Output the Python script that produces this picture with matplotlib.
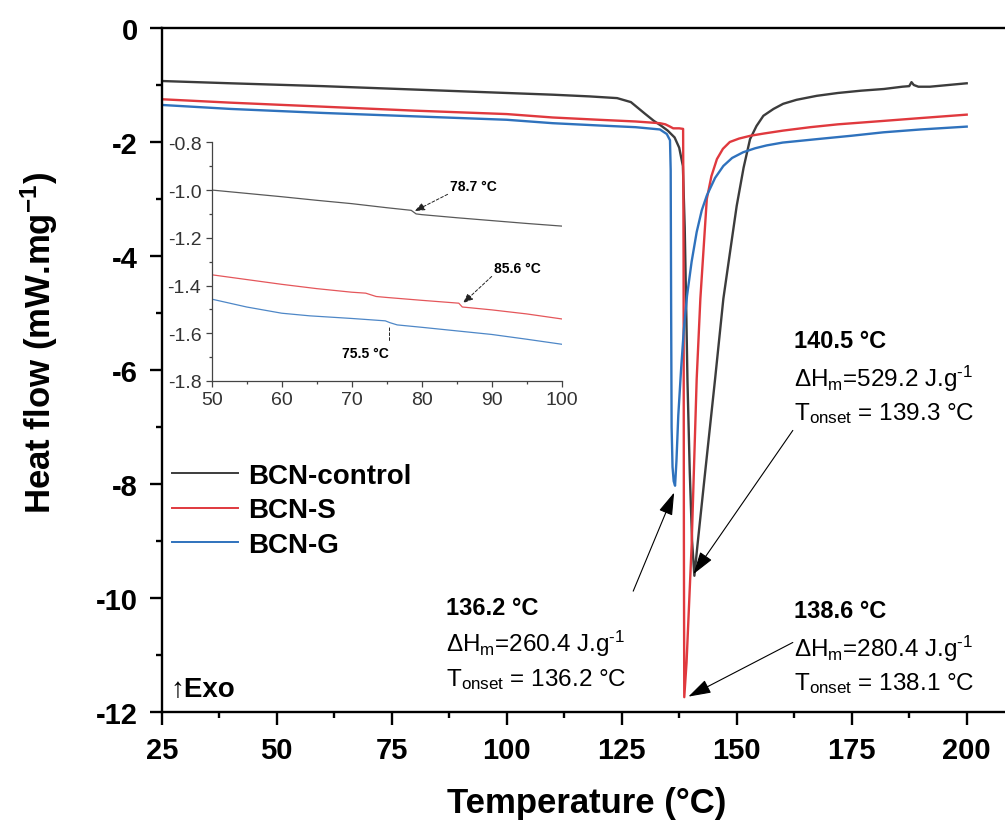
import numpy as np
import matplotlib
matplotlib.use("Agg")
import matplotlib.pyplot as plt
from matplotlib.ticker import MultipleLocator, FormatStrFormatter
from matplotlib.lines import Line2D

plt.rcParams["font.family"] = ["Liberation Sans", "DejaVu Sans"]
plt.rcParams["mathtext.fontset"] = "custom"
plt.rcParams["mathtext.rm"] = "Liberation Sans"
plt.rcParams["mathtext.bf"] = "Liberation Sans:bold"
plt.rcParams["mathtext.it"] = "Liberation Sans:italic"
plt.rcParams["axes.unicode_minus"] = False

# ---- DSC curves (T in degC, heat flow in mW/mg)
T_ctrl = [25, 40, 60, 80, 100, 110, 118, 124, 127, 130, 132, 133.5, 135, 136.5, 137.5, 138.3,
          138.7, 139.0, 139.3, 139.8, 140.3, 140.8, 141.5, 143, 145.3, 147.1, 148.5, 150, 151.5,
          152.9, 154.3, 155.8, 158, 160.1, 163, 167.4, 172, 177, 182, 186, 187.5, 188, 188.5,
          189.5, 192, 196, 200]
HF_ctrl = [-0.93, -0.97, -1.02, -1.08, -1.14, -1.17, -1.20, -1.23, -1.30, -1.50, -1.63, -1.71,
           -1.80, -1.92, -2.10, -2.42, -3.5, -4.8, -6.2, -7.8, -9.0, -9.61, -9.05, -7.9, -6.16,
           -4.75, -3.96, -3.12, -2.45, -1.95, -1.72, -1.54, -1.42, -1.33, -1.26, -1.19, -1.14,
           -1.10, -1.07, -1.03, -1.02, -0.95, -1.00, -1.03, -1.03, -1.00, -0.97]

T_S = [25, 40, 60, 80, 100, 110, 120, 128, 133.3, 134.5, 135.5, 136.2, 137.5, 138.35, 138.45,
       138.52, 138.6, 139.1, 140.2, 141.3, 142.1, 143.5, 144.5, 145.7, 147, 148.5, 150.5, 153,
       156, 160.1, 166, 172, 181.9, 190, 200]
HF_S = [-1.25, -1.31, -1.38, -1.45, -1.51, -1.57, -1.61, -1.64, -1.67, -1.69, -1.73, -1.76,
        -1.76, -1.77, -4.0, -9.0, -11.74, -11.13, -9.08, -6.16, -4.75, -3.0, -2.6, -2.3, -2.12,
        -2.0, -1.94, -1.89, -1.85, -1.80, -1.74, -1.69, -1.63, -1.58, -1.52]

T_G = [25, 40, 60, 80, 100, 110, 120, 128, 133.3, 134.8, 135.5, 135.65, 135.75, 135.85, 136.05,
       136.3, 136.6, 136.9, 137.3, 137.9, 138.5, 139.2, 140.2, 141.3, 142.4, 143.5, 145.3, 147.1,
       149, 151.4, 154, 156.5, 160, 167.4, 175, 181.9, 190, 200]
HF_G = [-1.35, -1.42, -1.49, -1.55, -1.61, -1.67, -1.71, -1.74, -1.78, -1.86, -1.97, -2.5, -5.0,
        -7.0, -7.7, -7.95, -8.03, -7.6, -6.8, -6.0, -5.3, -4.7, -4.1, -3.58, -3.2, -2.94, -2.63,
        -2.42, -2.28, -2.18, -2.11, -2.06, -2.01, -1.95, -1.89, -1.83, -1.78, -1.73]

# ---- inset (50-100 degC) glass-transition region
Ti_ctrl = [50, 55, 60, 65, 70, 75, 78.5, 79.2, 80, 85, 90, 95, 100]
HFi_ctrl = [-1.00, -1.014, -1.028, -1.043, -1.057, -1.074, -1.085, -1.100, -1.103, -1.116,
            -1.128, -1.140, -1.151]
Ti_S = [50, 55, 60, 65, 70, 72, 73.5, 75, 80, 85.3, 85.8, 90, 95, 100]
HFi_S = [-1.355, -1.375, -1.395, -1.413, -1.428, -1.432, -1.446, -1.45, -1.462, -1.474, -1.49,
         -1.502, -1.519, -1.54]
Ti_G = [50, 55, 60, 64, 70, 74.8, 75.5, 76.5, 80, 85, 90, 95, 100]
HFi_G = [-1.457, -1.49, -1.516, -1.527, -1.538, -1.548, -1.556, -1.565, -1.575, -1.59, -1.605,
         -1.625, -1.646]

LABELS = ["BCN-control", "BCN-S", "BCN-G"]
COLORS = ["#3c3c3c", "#e0393e", "#2f72bd"]

W, H = 1005, 828
def box(x0, y0, x1, y1):  # pixel box -> figure fraction
    return [x0 / W, 1 - y1 / H, (x1 - x0) / W, (y1 - y0) / H]

fig = plt.figure(figsize=(W / 100, H / 100), dpi=100)
ax = fig.add_axes(box(161.7, 29, 1012.7, 713))

for T, hf, c in zip([T_ctrl, T_S, T_G], [HF_ctrl, HF_S, HF_G], COLORS):
    ax.plot(T, hf, color=c, lw=1.7)

ax.set_xlim(25, 210)
ax.set_ylim(-12, 0)
ax.xaxis.set_major_locator(MultipleLocator(25))
ax.xaxis.set_minor_locator(MultipleLocator(12.5))
ax.yaxis.set_major_locator(MultipleLocator(2))
ax.yaxis.set_minor_locator(MultipleLocator(1))
ax.spines["right"].set_visible(False)
for s in ("left", "bottom", "top"):
    ax.spines[s].set_linewidth(1.7)
ax.tick_params(which="major", direction="out", length=9, width=1.7, labelsize=21, pad=8)
ax.tick_params(which="minor", direction="out", length=4.5, width=1.7)
ax.tick_params(axis="y", which="major", pad=8)
for lab in ax.get_xticklabels() + ax.get_yticklabels():
    lab.set_fontweight("bold")

ax.set_xlabel("Temperature (°C)", fontsize=25, fontweight="bold")
ax.xaxis.set_label_coords(0.4998, -0.108)
ax.set_ylabel(r"Heat flow (mW.mg$^{\mathbf{-1}}$)", fontsize=25, fontweight="bold")
ax.yaxis.set_label_coords(-0.1195, 0.541)

handles = [Line2D([], [], color=c, lw=1.4) for c in COLORS]
ax.legend(handles, LABELS, loc="upper left", bbox_to_anchor=(0.0118, 0.364), frameon=False,
          prop=dict(weight="bold", size=20), handlelength=2.4, handletextpad=0.35,
          labelspacing=0.3, borderpad=0, borderaxespad=0)

ax.text(26.8, -11.6, "↑Exo", fontsize=20, fontweight="bold", va="center", ha="left")

# peak annotations
arw = dict(arrowstyle="-|>,head_length=0.7,head_width=0.22", color="black", lw=0.8,
           shrinkA=0, shrinkB=0, mutation_scale=20)
ax.annotate("", xy=(140.6, -9.58), xytext=(162.2, -7.06), arrowprops=arw)
ax.annotate("", xy=(136.4, -8.15), xytext=(127.5, -9.88), arrowprops=arw)
ax.annotate("", xy=(139.5, -11.73), xytext=(162.2, -10.78), arrowprops=arw)

blocks = [(162.5, [-5.49, -6.13, -6.74], "140.5 °C", "529.2", "139.3"),
          (162.5, [-10.22, -10.87, -11.48], "138.6 °C", "280.4", "138.1"),
          (86.8, [-10.16, -10.78, -11.42], "136.2 °C", "260.4", "136.2")]
for x, ys, peak, dh, ton in blocks:
    ax.text(x, ys[0], peak, fontsize=17, fontweight="bold", va="center", ha="left")
    ax.text(x, ys[1], "ΔH$_\\mathrm{m}$=" + dh + " J.g$^{\\text{-1}}$", fontsize=17.5,
            va="center", ha="left")
    ax.text(x, ys[2], "T$_\\mathrm{onset}$ = " + ton + " °C", fontsize=17.5,
            va="center", ha="left")

# ---- inset
axi = fig.add_axes(box(211.7, 143.3, 561.7, 382))
for T, hf, c in zip([Ti_ctrl, Ti_S, Ti_G], [HFi_ctrl, HFi_S, HFi_G], COLORS):
    axi.plot(T, hf, color=c, lw=0.9, alpha=0.85)
axi.set_xlim(50, 100)
axi.set_ylim(-1.8, -0.8)
axi.xaxis.set_major_locator(MultipleLocator(10))
axi.xaxis.set_minor_locator(MultipleLocator(5))
axi.yaxis.set_major_locator(MultipleLocator(0.2))
axi.yaxis.set_minor_locator(MultipleLocator(0.1))
axi.yaxis.set_major_formatter(FormatStrFormatter("%.1f"))
axi.patch.set_alpha(0)
for s in ("top", "right"):
    axi.spines[s].set_visible(False)
for s in ("left", "bottom"):
    axi.spines[s].set_linewidth(0.9)
    axi.spines[s].set_color("#444444")
axi.tick_params(which="major", direction="out", length=4.5, width=0.9, labelsize=14,
                color="#444444", labelcolor="#333333", pad=3)
axi.tick_params(which="minor", direction="out", length=2.5, width=0.9, color="#444444")

darw = dict(arrowstyle="-|>,head_length=0.5,head_width=0.2", color="#222222", lw=0.7,
            linestyle=(0, (3, 2)), shrinkA=0, shrinkB=0, mutation_scale=12)
axi.annotate("", xy=(79.0, -1.088), xytext=(83.7, -1.018), arrowprops=darw)
axi.annotate("", xy=(85.9, -1.474), xytext=(90.0, -1.362), arrowprops=darw)
axi.annotate("", xy=(75.4, -1.558), xytext=(75.4, -1.642),
             arrowprops=dict(arrowstyle="-", color="#222222", lw=0.7, linestyle=(0, (3, 2))))
axi.text(87.4, -0.984, "78.7 °C", fontsize=10, fontweight="bold", ha="center", va="center")
axi.text(93.6, -1.325, "85.6 °C", fontsize=10, fontweight="bold", ha="center", va="center")
axi.text(71.9, -1.682, "75.5 °C", fontsize=10, fontweight="bold", ha="center", va="center")

fig.savefig("out.png", dpi=100)
